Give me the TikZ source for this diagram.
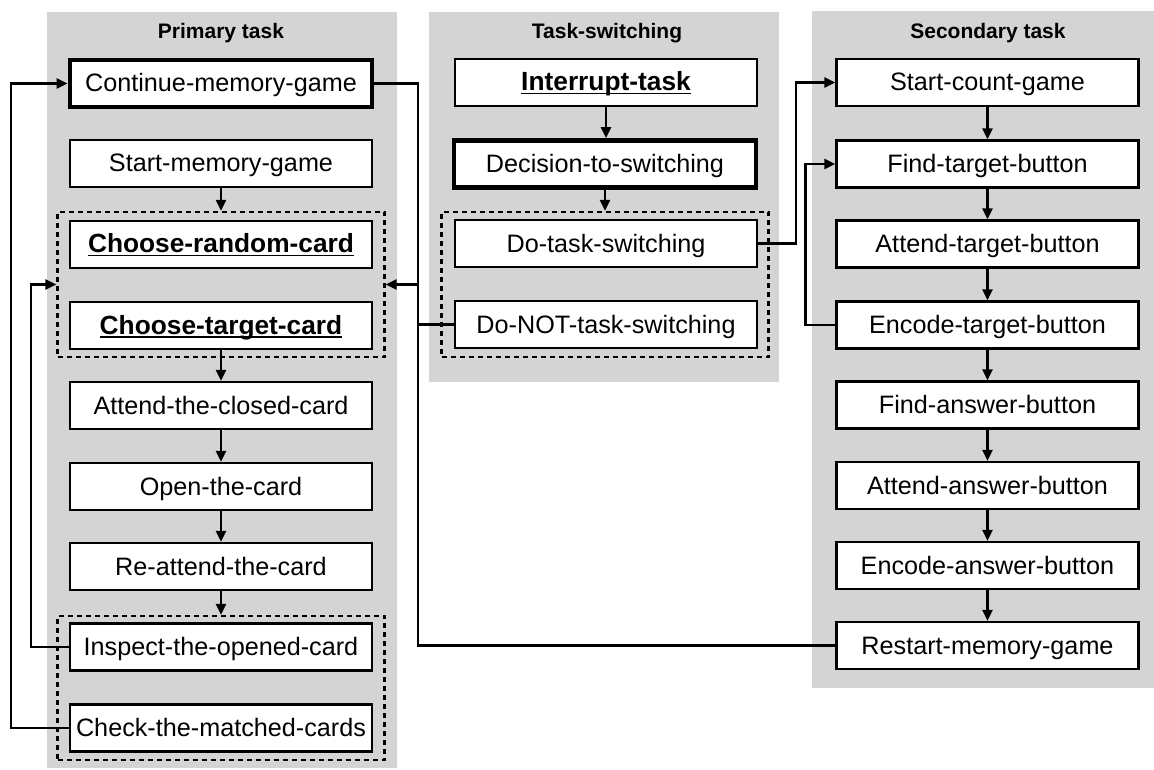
\documentclass[tikz,border=0pt]{standalone}
\usepackage{fontspec}
\setmainfont{Liberation Sans}
\usetikzlibrary{arrows.meta}
\definecolor{panelgray}{RGB}{212,212,212}
\newcommand\myul[1]{\setbox0\hbox{#1}\rlap{\rule[-3.5pt]{\wd0}{1.7pt}}\box0}
\begin{document}
\begin{tikzpicture}[x=1pt,y=-1pt,
  panel/.style={fill=panelgray, draw=none, inner sep=0pt, outer sep=0pt, anchor=north west},
  box/.style={draw, line width=2.2pt, fill=white, minimum width=302pt, minimum height=47pt,
    inner sep=0pt, text height=19pt, text depth=2pt, font=\fontsize{25.2}{28}\selectfont},
  thickbox/.style={box, line width=4.8pt},
  boldbox/.style={box, font=\fontsize{26.3}{28}\selectfont\bfseries},
  grp/.style={draw, dash pattern=on 5pt off 4pt, line width=2.2pt, minimum width=327pt,
    minimum height=145pt, inner sep=0pt},
  ttl/.style={anchor=base, inner sep=0pt, font=\fontsize{21}{24}\selectfont\bfseries},
  arr/.style={line width=2.2pt, -{Triangle[length=11pt,width=10pt]}},
  ln/.style={line width=2.2pt}]
\useasboundingbox (0,0) rectangle (1154,770);
% panels
\node[panel, minimum width=350pt, minimum height=756pt] (pP) at (47,12) {};
\node[panel, minimum width=350pt, minimum height=370pt] (pT) at (429,12) {};
\node[panel, minimum width=342pt, minimum height=677pt] (pS) at (812,11) {};
% titles
\node[ttl] (tP) at (221,39) {Primary task};
\node[ttl] (tT) at (607,39) {Task-switching};
\node[ttl] (tS) at (988,39) {Secondary task};
% dashed groups
\node[grp] (g1) at (221,284.5) {};
\node[grp, minimum height=144pt] (g2) at (221,688) {};
\node[grp] (gT) at (605,284.5) {};
% primary task
\node[thickbox] (cont) at (221,83.5) {Continue-memory-game};
\node[box] (startm) at (221,163.5) {Start-memory-game};
\node[boldbox] (crc) at (221,244.5) {\myul{Choose-random-card}};
\node[boldbox] (ctc) at (221,325.5) {\myul{Choose-target-card}};
\node[box] (attc) at (221,405.5) {Attend-the-closed-card};
\node[box] (openc) at (221,486.5) {Open-the-card};
\node[box] (reatt) at (221,566.5) {Re-attend-the-card};
\node[box] (insp) at (221,647) {Inspect-the-opened-card};
\node[box] (check) at (221,728) {Check-the-matched-cards};
% task switching
\node[boldbox] (intr) at (606,82.5) {\myul{Interrupt-task}};
\node[thickbox] (dec) at (605,164) {Decision-to-switching};
\node[box] (dots) at (606,243.5) {Do-task-switching};
\node[box] (donot) at (606,324.5) {Do-NOT-task-switching};
% secondary task
\node[box] (sc) at (987.5,82.5) {Start-count-game};
\node[box] (ftb) at (987.5,164) {Find-target-button};
\node[box] (atb) at (987.5,244) {Attend-target-button};
\node[box] (etb) at (987.5,325) {Encode-target-button};
\node[box] (fab) at (987.5,405) {Find-answer-button};
\node[box] (aab) at (987.5,485.5) {Attend-answer-button};
\node[box] (eab) at (987.5,565.5) {Encode-answer-button};
\node[box] (rmg) at (987.5,645.5) {Restart-memory-game};
% vertical arrows
\draw[arr] (startm.south) -- (g1.north);
\draw[arr] (ctc.south) -- (attc.north);
\draw[arr] (attc.south) -- (openc.north);
\draw[arr] (openc.south) -- (reatt.north);
\draw[arr] (reatt.south) -- (g2.north);
\draw[arr] (intr.south) -- (intr.south |- dec.north);
\draw[arr] (dec.south) -- (gT.north);
\draw[arr] (sc.south) -- (ftb.north);
\draw[arr] (ftb.south) -- (atb.north);
\draw[arr] (atb.south) -- (etb.north);
\draw[arr] (etb.south) -- (fab.north);
\draw[arr] (fab.south) -- (aab.north);
\draw[arr] (aab.south) -- (eab.north);
\draw[arr] (eab.south) -- (rmg.north);
% right junction into primary group
\coordinate (jr) at (418,284.5);
\draw[arr] (cont.east) -| (jr) -- (g1.east);
\draw[ln] (donot.west) -| (jr);
\draw[ln] (rmg.west) -| (jr);
% left loops
\draw[arr] (check.west) -- ++(-58,0) |- (cont.west);
\draw[arr] (insp.west) -- ++(-38,0) |- (g1.west);
% secondary loops
\draw[arr] (dots.east) -- ++(38,0) |- (sc.west);
\draw[arr] (etb.west) -- ++(-30,0) |- (ftb.west);
\end{tikzpicture}
\end{document}
